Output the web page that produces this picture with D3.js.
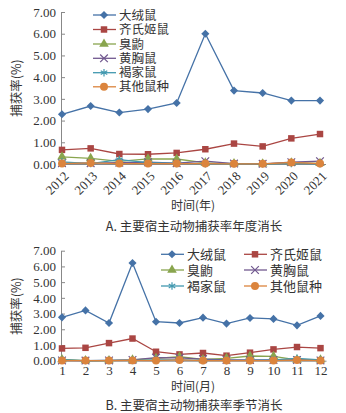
<!DOCTYPE html>
<html><head><meta charset="utf-8">
<script src="https://cdn.jsdelivr.net/npm/d3@7"></script>
<style>
body{margin:0;background:#fff;}
text{font-family:"Liberation Serif","Noto Sans CJK SC",serif;fill:#333;}
.cjk{font-family:"Noto Sans CJK SC","Liberation Serif",sans-serif;}
.leg{font-family:"Liberation Serif","Noto Sans CJK SC",serif;}
</style></head>
<body><svg id="c" width="346" height="413"></svg>
<script>
const seriesNames = ["大绒鼠","齐氏姬鼠","臭鼩","黄胸鼠","褐家鼠","其他鼠种"];
const seriesColors = ["#4572A7","#AA4643","#89A54E","#71588F","#4198AF","#DB843D"];
const seriesMarkers = ["diamond","square","triangle","cross","star","circle"];
const yTicks = [0,1,2,3,4,5,6,7];

const years = ["2012","2013","2014","2015","2016","2017","2018","2019","2020","2021"];
const yearDaRongShu  = [2.29,2.67,2.37,2.53,2.81,6.00,3.38,3.27,2.92,2.92];
const yearQiShiJiShu = [0.65,0.72,0.46,0.45,0.51,0.68,0.94,0.81,1.18,1.38];
const yearChouQu     = [0.33,0.26,0.12,0.24,0.23,0.05,0.02,0.01,0.05,0.03];
const yearHuangXiong = [0.04,0.04,0.06,0.08,0.04,0.13,0.02,0.01,0.08,0.13];
const yearHeJiaShu   = [0.10,0.02,0.20,0.06,0.03,0.01,0.01,0.01,0.03,0.01];
const yearOther      = [0.02,0.05,0.02,0.02,0.02,0.02,0.01,0.01,0.07,0.02];

const months = ["1","2","3","4","5","6","7","8","9","10","11","12"];
const monthDaRongShu  = [2.76,3.20,2.40,6.22,2.48,2.40,2.74,2.36,2.72,2.66,2.25,2.85];
const monthQiShiJiShu = [0.78,0.82,1.12,1.41,0.57,0.40,0.49,0.32,0.51,0.72,0.87,0.80];
const monthChouQu     = [0.08,0.01,0.01,0.05,0.15,0.25,0.08,0.15,0.30,0.28,0.05,0.06];
const monthHuangXiong = [0.02,0.01,0.02,0.05,0.20,0.18,0.10,0.05,0.05,0.05,0.05,0.02];
const monthHeJiaShu   = [0.05,0.01,0.02,0.02,0.05,0.05,0.02,0.02,0.02,0.05,0.15,0.05];
const monthOther      = [0.01,0.01,0.01,0.02,0.01,0.05,0.01,0.01,0.01,0.01,0.04,0.01];

const svg = d3.select("#c");

function marker(g, type, x, y, color){
  const sz = {diamond:60, square:42, triangle:40, circle:50, cross:40, star:40}[type];
  if(type==="cross"){
    g.append("path").attr("d", d3.symbol(d3.symbolX, sz)()).attr("transform",`translate(${x},${y})`)
      .attr("stroke",color).attr("stroke-width",1.2).attr("fill","none");
  } else if(type==="star"){
    g.append("path").attr("d", d3.symbol(d3.symbolAsterisk, sz)()).attr("transform",`translate(${x},${y})`)
      .attr("stroke",color).attr("stroke-width",1.2).attr("fill","none");
  } else {
    const s = {square:d3.symbolSquare, triangle:d3.symbolTriangle, circle:d3.symbolCircle}[type];
    let sym = type==="diamond" ? d3.symbol(d3.symbolSquare, sz*0.55)() : d3.symbol(s, sz)();
    const p = g.append("path").attr("d", sym).attr("fill",color);
    if(type==="diamond") p.attr("transform",`translate(${x},${y}) rotate(45)`);
    else p.attr("transform",`translate(${x},${y})`);
  }
}

function drawChart(cfg){
  const g = svg.append("g");
  const x = d3.scalePoint().domain(cfg.cats).range([cfg.x0, cfg.x1]);
  const y = d3.scaleLinear().domain([0,7]).range([cfg.y0, cfg.y1]);
  // y axis
  const ya = g.append("g").attr("transform",`translate(${cfg.x0},0)`)
    .call(d3.axisLeft(y).tickValues(yTicks).tickFormat(d3.format(".2f")).tickSize(-3).tickPadding(6));
  ya.select(".domain").attr("stroke","#888").attr("d",`M-0.5,${cfg.y1}V${cfg.y0}`);
  ya.selectAll(".tick line").attr("stroke","#888");
  ya.selectAll(".tick text").attr("font-size",13).attr("fill","#333")
    .style("font-family","Liberation Serif");
  // x axis
  const xa = g.append("g").attr("transform",`translate(0,${cfg.y0})`)
    .call(d3.axisBottom(x).tickSize(0).tickPadding(5));
  xa.select(".domain").attr("stroke","#888").attr("d",`M${cfg.x0},0.5H${cfg.x1+6}`);
  xa.selectAll(".tick text").attr("font-size",13).attr("fill","#333").style("font-family","Liberation Serif");
  if(cfg.rotate){
    xa.selectAll(".tick text").attr("text-anchor","end").attr("y",0).attr("dy",0)
      .attr("transform","translate(7,13) rotate(-45)");
  }
  // lines
  const line = d3.line().x((d,i)=>x(cfg.cats[i])).y(d=>y(d));
  cfg.series.forEach((vals,si)=>{
    g.append("path").datum(vals).attr("d",line).attr("fill","none")
      .attr("stroke",seriesColors[si]).attr("stroke-width",1.3);
    vals.forEach((v,i)=>marker(g, seriesMarkers[si], x(cfg.cats[i]), y(v), seriesColors[si]));
  });
  // axis titles
  g.append("text").attr("class","cjk").attr("transform",`translate(${cfg.ytx},${cfg.yty}) rotate(-90)`)
    .attr("text-anchor","middle").attr("font-size",12.5).attr("fill","#333").text("捕获率(%)");
  g.append("text").attr("class","cjk").attr("x",cfg.xtx).attr("y",cfg.xty).attr("text-anchor","middle")
    .attr("font-size",12).attr("fill","#333").text(cfg.xtitle);
  g.append("text").attr("class","cjk").attr("x",194).attr("y",cfg.capy).attr("text-anchor","middle")
    .attr("font-size",12.5).attr("fill","#333").text(cfg.caption);
  // legend
  cfg.legendPos.forEach((p,si)=>{
    const lg = g.append("g");
    lg.append("line").attr("x1",p[0]-11).attr("x2",p[0]+12).attr("y1",p[1]).attr("y2",p[1])
      .attr("stroke",seriesColors[si]).attr("stroke-width",1.3);
    marker(lg, seriesMarkers[si], p[0], p[1], seriesColors[si]);
    lg.append("text").attr("class","leg").attr("x",p[0]+15).attr("y",p[1]).attr("dy","0.36em")
      .attr("font-size",cfg.legendFont).attr("fill","#333").text(seriesNames[si]);
  });
}

drawChart({
  cats: years, x0:62, x1:320, y0:164, y1:12, rotate:true,
  series:[yearDaRongShu,yearQiShiJiShu,yearChouQu,yearHuangXiong,yearHeJiaShu,yearOther],
  ytx:21, yty:88, xtx:193, xty:210, xtitle:"时间(年)", capy:231, caption:"A. 主要宿主动物捕获率年度消长",
  legendFont:12.5,
  legendPos:[[104,15],[104,29.5],[104,44],[104,58.3],[104,72.7],[104,86.8]]
});
drawChart({
  cats: months, x0:62, x1:320.5, y0:360.7, y1:250.7, rotate:false,
  series:[monthDaRongShu,monthQiShiJiShu,monthChouQu,monthHuangXiong,monthHeJiaShu,monthOther],
  ytx:21, yty:306, xtx:193, xty:391, xtitle:"时间(月)", capy:410, caption:"B. 主要宿主动物捕获率季节消长",
  legendFont:13,
  legendPos:[[172,254.3],[255,254.3],[172,270],[255,270],[172,286],[255,286]]
});
</script></body></html>
